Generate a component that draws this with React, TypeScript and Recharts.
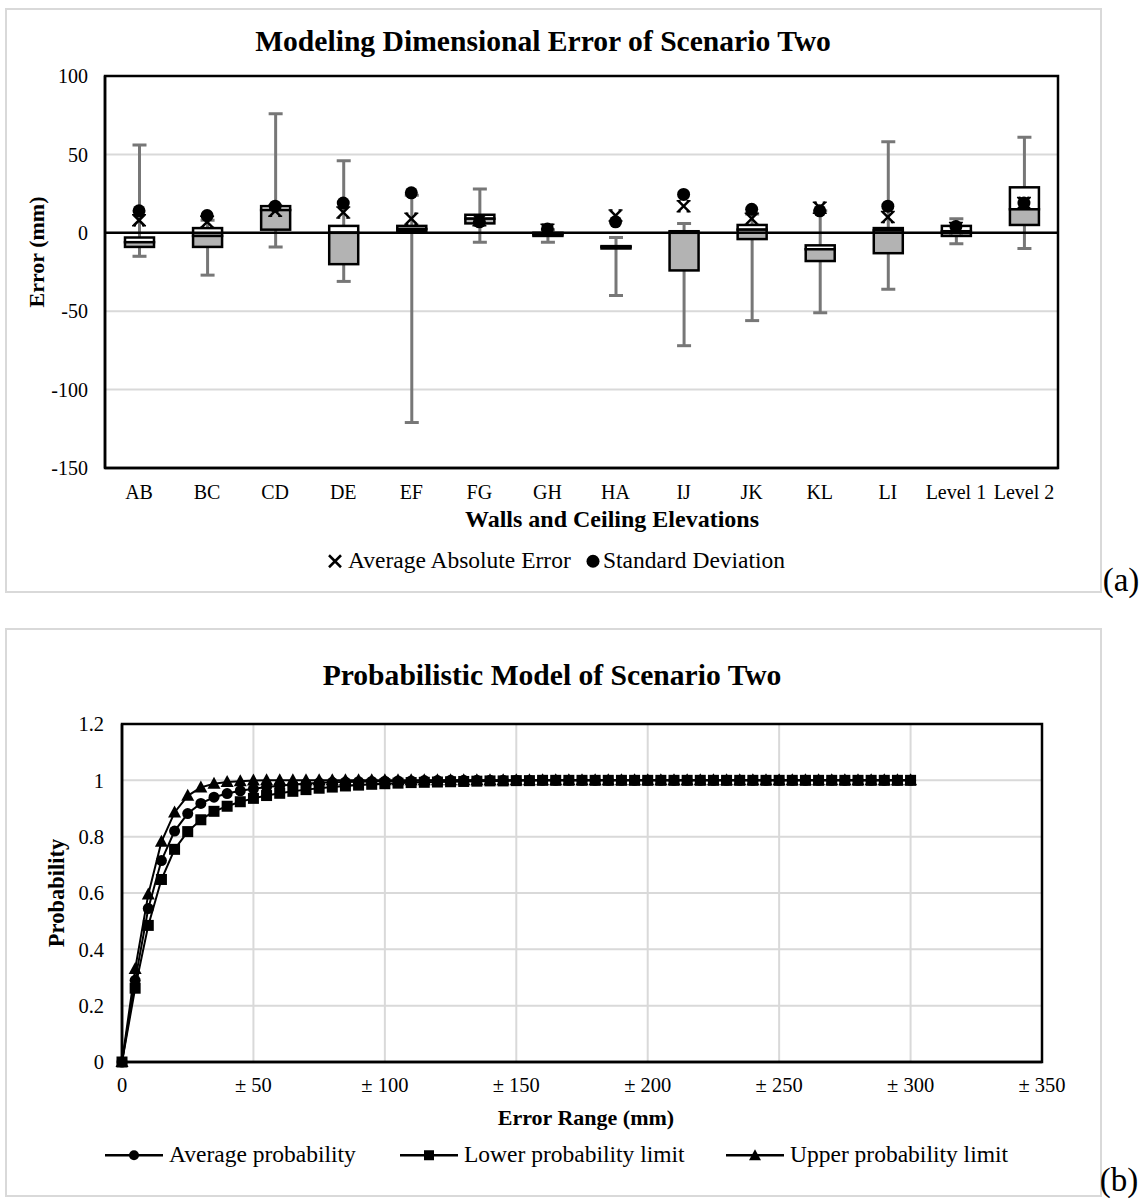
import React from "react";
import {
  ComposedChart,
  LineChart,
  Bar,
  Line,
  XAxis,
  YAxis,
  CartesianGrid,
  ReferenceLine,
  ReferenceArea,
} from "recharts";

const FONT = "'Liberation Serif', 'Times New Roman', serif";

// ---- chart (a): box plots per elevation ----
const elevations = ["AB", "BC", "CD", "DE", "EF", "FG", "GH", "HA", "IJ", "JK", "KL", "LI", "Level 1", "Level 2"];
const whiskerLow = [-15, -27, -9, -31, -121, -6, -6, -40, -72, -56, -51, -36, -7, -10];
const quartile1 = [-9, -9, 2, -20, 1, 6, -2, -10, -24, -4, -18, -13, -2, 5];
const medians = [-6, -2, 14.5, 0, 2.4, 9, -1, -9, 0, 2, -10.5, 1.5, 1, 15];
const quartile3 = [-3, 3, 17, 4.4, 4.4, 11.5, 0, -8.5, 1, 5, -8, 3, 4.4, 29];
const whiskerHigh = [56, 8, 76, 46, 24, 28, 2, -3, 6, 12, 14, 58, 9, 61];
const avgAbsError = [8, 7, 14, 13, 9, 8, 2, 11, 17, 9, 16, 10, 3, 19];
const stdDeviation = [14, 11, 17, 19, 25.5, 7, 2.5, 7, 24.5, 15, 14, 17, 4, 19];
const errorTicks = [-150, -100, -50, 0, 50, 100];

// ---- chart (b): probability curves ----
const errorRange = [
  0, 5, 10, 15, 20, 25, 30, 35, 40, 45, 50, 55, 60, 65, 70, 75, 80, 85, 90, 95, 100,
  105, 110, 115, 120, 125, 130, 135, 140, 145, 150, 155, 160, 165, 170, 175, 180, 185, 190, 195, 200,
  205, 210, 215, 220, 225, 230, 235, 240, 245, 250, 255, 260, 265, 270, 275, 280, 285, 290, 295, 300,
];
const avgProbability = [
  0, 0.29, 0.545, 0.715, 0.82, 0.882, 0.918, 0.94, 0.953, 0.963, 0.97, 0.976, 0.981, 0.985, 0.988, 0.991, 0.993, 0.994, 0.995, 0.996, 0.997,
  0.998, 0.998, 0.999, 0.999, 1, 1, 1, 1, 1, 1, 1, 1, 1, 1, 1, 1, 1, 1, 1, 1,
  1, 1, 1, 1, 1, 1, 1, 1, 1, 1, 1, 1, 1, 1, 1, 1, 1, 1, 1, 1,
];
const lowerProbability = [
  0, 0.262, 0.485, 0.648, 0.755, 0.818, 0.86, 0.89, 0.908, 0.924, 0.936, 0.946, 0.954, 0.961, 0.967, 0.972, 0.976, 0.98, 0.983, 0.986, 0.988,
  0.99, 0.992, 0.993, 0.994, 0.995, 0.996, 0.997, 0.998, 0.998, 0.999, 0.999, 1, 1, 1, 1, 1, 1, 1, 1, 1,
  1, 1, 1, 1, 1, 1, 1, 1, 1, 1, 1, 1, 1, 1, 1, 1, 1, 1, 1, 1,
];
const upperProbability = [
  0, 0.33, 0.595, 0.782, 0.886, 0.945, 0.975, 0.988, 0.994, 0.997, 0.999, 1, 1, 1, 1, 1, 1, 1, 1, 1, 1,
  1, 1, 1, 1, 1, 1, 1, 1, 1, 1, 1, 1, 1, 1, 1, 1, 1, 1, 1, 1,
  1, 1, 1, 1, 1, 1, 1, 1, 1, 1, 1, 1, 1, 1, 1, 1, 1, 1, 1, 1,
];
const rangeTicks = [0, 50, 100, 150, 200, 250, 300, 350];
const probTicks = [0, 0.2, 0.4, 0.6, 0.8, 1, 1.2];

const boxData = elevations.map((name, i) => ({
  name,
  min: whiskerLow[i],
  q1: quartile1[i],
  median: medians[i],
  q3: quartile3[i],
  max: whiskerHigh[i],
  avgAbs: avgAbsError[i],
  std: stdDeviation[i],
}));

const probData = errorRange.map((x, i) => ({
  x,
  avg: avgProbability[i],
  lower: lowerProbability[i],
  upper: upperProbability[i],
}));

const tickStyle = { fill: "#000", fontSize: 20, fontFamily: FONT };

// box + whisker drawn from the bar's own [min, max] geometry
const BoxShape = (props: any) => {
  const { x, y, width, height, payload } = props;
  const { min, q1, median, q3, max } = payload;
  const top = Math.min(y, y + height);
  const h = Math.abs(height);
  const py = (v: number) => top + (h * (max - v)) / (max - min);
  const cx = x + width / 2;
  const cap = 7;
  return (
    <g>
      <line x1={cx} x2={cx} y1={py(max)} y2={py(min)} stroke="#777" strokeWidth={3} />
      <line x1={cx - cap} x2={cx + cap} y1={py(max)} y2={py(max)} stroke="#777" strokeWidth={3} />
      <line x1={cx - cap} x2={cx + cap} y1={py(min)} y2={py(min)} stroke="#777" strokeWidth={3} />
      <rect x={x} y={py(q3)} width={width} height={py(median) - py(q3)} fill="#fff" stroke="#000" strokeWidth={2.5} />
      <rect x={x} y={py(median)} width={width} height={py(q1) - py(median)} fill="#b3b3b3" stroke="#000" strokeWidth={2.5} />
    </g>
  );
};

const XMark = (props: any) => {
  const { cx, cy, index } = props;
  if (cx == null || cy == null) return null;
  const s = 5.5;
  return (
    <g key={`x-${index}`}>
      <line x1={cx - s} y1={cy - s} x2={cx + s} y2={cy + s} stroke="#000" strokeWidth={2.5} />
      <line x1={cx - s} y1={cy + s} x2={cx + s} y2={cy - s} stroke="#000" strokeWidth={2.5} />
      <line x1={cx - s - 1.5} y1={cy - s} x2={cx - s + 2.5} y2={cy - s} stroke="#000" strokeWidth={1.5} />
      <line x1={cx + s - 2.5} y1={cy - s} x2={cx + s + 1.5} y2={cy - s} stroke="#000" strokeWidth={1.5} />
      <line x1={cx - s - 1.5} y1={cy + s} x2={cx - s + 2.5} y2={cy + s} stroke="#000" strokeWidth={1.5} />
      <line x1={cx + s - 2.5} y1={cy + s} x2={cx + s + 1.5} y2={cy + s} stroke="#000" strokeWidth={1.5} />
    </g>
  );
};

const BigDot = (props: any) => {
  const { cx, cy, index } = props;
  if (cx == null || cy == null) return null;
  return <circle key={`d-${index}`} cx={cx} cy={cy} r={6.5} fill="#000" />;
};

const CircleDot = (props: any) => {
  const { cx, cy, index } = props;
  return <circle key={`c-${index}`} cx={cx} cy={cy} r={5.5} fill="#000" />;
};

const SquareDot = (props: any) => {
  const { cx, cy, index } = props;
  return <rect key={`s-${index}`} x={cx - 5.5} y={cy - 5.5} width={11} height={11} fill="#000" />;
};

const TriangleDot = (props: any) => {
  const { cx, cy, index } = props;
  return (
    <polygon
      key={`t-${index}`}
      points={`${cx},${cy - 7} ${cx + 6.5},${cy + 5} ${cx - 6.5},${cy + 5}`}
      fill="#000"
    />
  );
};

const abs = (style: React.CSSProperties): React.CSSProperties => ({ position: "absolute", ...style });

const centered = (x: number, y: number, extra: React.CSSProperties = {}): React.CSSProperties =>
  abs({ left: x, top: y, transform: "translate(-50%, -50%)", whiteSpace: "nowrap", lineHeight: 1, ...extra });

const LegendLine = ({ marker }: { marker: "circle" | "square" | "triangle" }) => (
  <svg width={58} height={16} style={{ marginRight: 6 }}>
    <line x1={0} x2={58} y1={8} y2={8} stroke="#000" strokeWidth={2.5} />
    {marker === "circle" && <circle cx={29} cy={8} r={5} fill="#000" />}
    {marker === "square" && <rect x={24} y={3} width={10} height={10} fill="#000" />}
    {marker === "triangle" && <polygon points="29,2 35,13 23,13" fill="#000" />}
  </svg>
);

const legendItem = (left: number, top: number): React.CSSProperties =>
  abs({ left, top, fontSize: 23.5, display: "flex", alignItems: "center", whiteSpace: "nowrap", lineHeight: 1, transform: "translateY(-50%)" });

export default function App() {
  return (
    <div style={{ position: "absolute", left: 0, top: 0, width: 1140, height: 1204, background: "#fff", fontFamily: FONT, color: "#000" }}>
      {/* frame (a) */}
      <div style={abs({ left: 5, top: 8, width: 1093, height: 581, border: "2px solid #d9d9d9" })} />
      <div style={abs({ left: 0, top: 0 })}>
        <ComposedChart width={1140} height={600} data={boxData} margin={{ top: 76, right: 82, bottom: 102, left: 45 }}>
          <CartesianGrid vertical={false} stroke="#d9d9d9" strokeWidth={2} />
          <XAxis
            dataKey="name"
            axisLine={{ stroke: "#000", strokeWidth: 2.5 }}
            tickLine={false}
            tickSize={0}
            tickMargin={17}
            tick={tickStyle}
            height={30}
            interval={0}
          />
          <YAxis
            domain={[-150, 100]}
            ticks={errorTicks}
            axisLine={{ stroke: "#000", strokeWidth: 2.5 }}
            tickLine={false}
            tickSize={0}
            tickMargin={17}
            tick={tickStyle}
            width={60}
            allowDataOverflow
          />
          <ReferenceArea y1={-150} y2={100} fill="none" stroke="#000" strokeWidth={2.5} ifOverflow="visible" />
          <ReferenceLine y={0} stroke="#000" strokeWidth={2.5} />
          <Bar dataKey={(d: any) => [d.min, d.max]} barSize={29} shape={<BoxShape />} isAnimationActive={false} />
          <Line dataKey="avgAbs" stroke="none" dot={<XMark />} activeDot={false} isAnimationActive={false} />
          <Line dataKey="std" stroke="none" dot={<BigDot />} activeDot={false} isAnimationActive={false} />
        </ComposedChart>
      </div>
      <div style={centered(543, 42, { fontSize: 29.6, fontWeight: "bold" })}>Modeling Dimensional Error of Scenario Two</div>
      <div style={centered(37, 252, { fontSize: 22, fontWeight: "bold", transform: "translate(-50%, -50%) rotate(-90deg)" })}>Error (mm)</div>
      <div style={centered(612, 519, { fontSize: 24, fontWeight: "bold" })}>Walls and Ceiling Elevations</div>
      <div style={legendItem(327, 561)}>
        <svg width={16} height={16} style={{ marginRight: 5 }}>
          <line x1={2} y1={2} x2={14} y2={14} stroke="#000" strokeWidth={2.5} />
          <line x1={2} y1={14} x2={14} y2={2} stroke="#000" strokeWidth={2.5} />
        </svg>
        <span>Average Absolute Error</span>
      </div>
      <div style={legendItem(585, 561)}>
        <svg width={16} height={16} style={{ marginRight: 2 }}>
          <circle cx={8} cy={8} r={6.5} fill="#000" />
        </svg>
        <span>Standard Deviation</span>
      </div>
      <div style={centered(1121, 580, { fontSize: 33 })}>(a)</div>

      {/* frame (b) */}
      <div style={abs({ left: 5, top: 628, width: 1093, height: 565, border: "2px solid #d9d9d9" })} />
      <div style={abs({ left: 0, top: 600 })}>
        <LineChart width={1140} height={604} data={probData} margin={{ top: 124, right: 98, bottom: 112, left: 62 }}>
          <CartesianGrid stroke="#d9d9d9" strokeWidth={2} />
          <XAxis
            dataKey="x"
            type="number"
            domain={[0, 350]}
            ticks={rangeTicks}
            tickFormatter={(v: number) => (v === 0 ? "0" : `± ${v}`)}
            axisLine={{ stroke: "#000", strokeWidth: 2.5 }}
            tickLine={false}
            tickSize={0}
            tickMargin={15}
            tick={{ ...tickStyle, fontSize: 20.5 }}
            height={30}
            interval={0}
          />
          <YAxis
            domain={[0, 1.2]}
            ticks={probTicks}
            tickFormatter={(v: number) => String(Number(v.toFixed(1)))}
            axisLine={{ stroke: "#000", strokeWidth: 2.5 }}
            tickLine={false}
            tickSize={0}
            tickMargin={18}
            tick={{ ...tickStyle, fontSize: 20.5 }}
            width={60}
          />
          <ReferenceArea y1={0} y2={1.2} fill="none" stroke="#000" strokeWidth={2.5} ifOverflow="visible" />
          <Line dataKey="avg" stroke="#000" strokeWidth={2} dot={<CircleDot />} activeDot={false} isAnimationActive={false} />
          <Line dataKey="upper" stroke="#000" strokeWidth={2} dot={<TriangleDot />} activeDot={false} isAnimationActive={false} />
          <Line dataKey="lower" stroke="#000" strokeWidth={2} dot={<SquareDot />} activeDot={false} isAnimationActive={false} />
        </LineChart>
      </div>
      <div style={centered(552, 676, { fontSize: 29.6, fontWeight: "bold" })}>Probabilistic Model of Scenario Two</div>
      <div style={centered(57, 893, { fontSize: 22.5, fontWeight: "bold", transform: "translate(-50%, -50%) rotate(-90deg)" })}>Probability</div>
      <div style={centered(586, 1118, { fontSize: 22, fontWeight: "bold" })}>Error Range (mm)</div>
      <div style={legendItem(105, 1155)}>
        <LegendLine marker="circle" />
        <span>Average probability</span>
      </div>
      <div style={legendItem(400, 1155)}>
        <LegendLine marker="square" />
        <span>Lower probability limit</span>
      </div>
      <div style={legendItem(726, 1155)}>
        <LegendLine marker="triangle" />
        <span>Upper probability limit</span>
      </div>
      <div style={centered(1119, 1180, { fontSize: 33 })}>(b)</div>
    </div>
  );
}
